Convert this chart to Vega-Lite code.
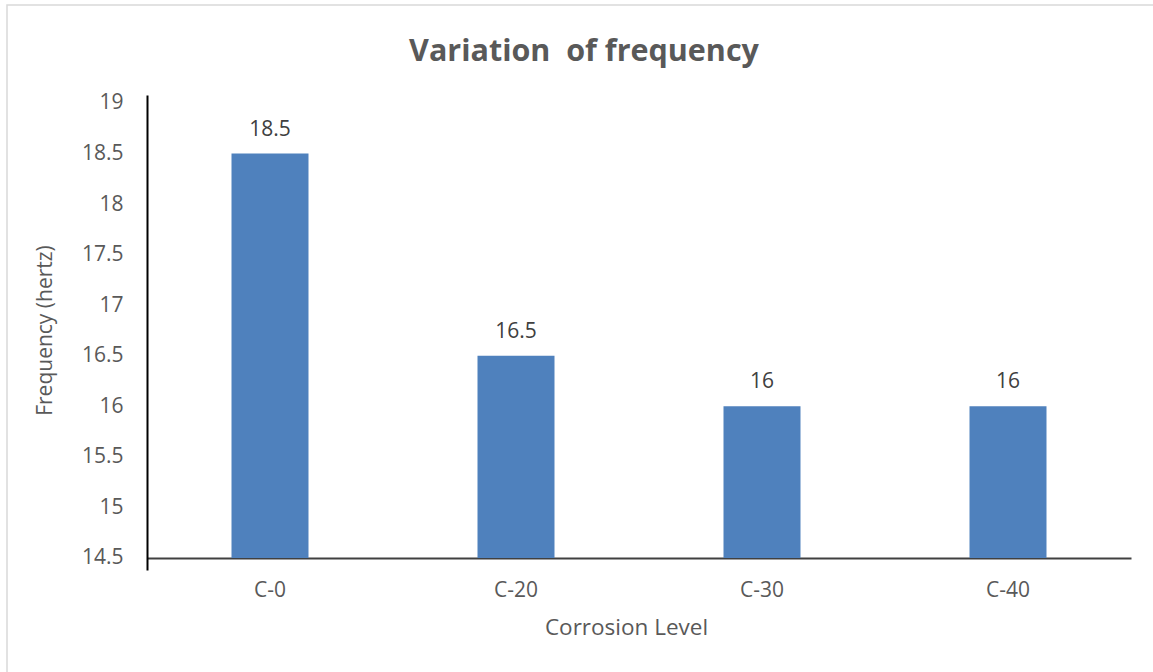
{
  "$schema": "https://vega.github.io/schema/vega-lite/v6.json",
  "autosize": "none",
  "width": 1150,
  "height": 670,
  "padding": {"left": 7, "top": 5, "right": 0, "bottom": 0},
  "background": "white",
  "config": {
    "view": {"stroke": "#D9D9D9", "strokeWidth": 1.5},
    "font": "Open Sans"
  },
  "title": {
    "text": "Variation \u00a0of frequency",
    "font": "Open Sans",
    "fontSize": 30.5,
    "fontWeight": "bold",
    "color": "#595959",
    "anchor": "middle",
    "frame": "group",
    "baseline": "middle",
    "offset": -40,
    "dx": 2,
    "dy": 37
  },
  "data": {
    "values": [
      {"level": "C-0", "frequency": 18.5},
      {"level": "C-20", "frequency": 16.5},
      {"level": "C-30", "frequency": 16},
      {"level": "C-40", "frequency": 16}
    ]
  },
  "encoding": {
    "x": {
      "field": "level",
      "type": "nominal",
      "sort": null,
      "scale": {"type": "band", "range": [140, 1124], "paddingInner": 0.687, "paddingOuter": 0.3435},
      "axis": {
        "title": "Corrosion Level",
        "orient": "bottom",
        "offset": -117,
        "labelAngle": 0,
        "labelFont": "Open Sans",
        "labelFontSize": 21,
        "labelColor": "#595959",
        "labelPadding": 21,
        "ticks": false,
        "domain": true,
        "domainColor": "#404040",
        "domainWidth": 2,
        "titleFont": "Open Sans",
        "titleFontSize": 22.5,
        "titleFontWeight": "normal",
        "titleColor": "#595959",
        "titleX": 619,
        "titleY": 69,
        "titleBaseline": "middle",
        "titleAnchor": "middle",
        "titleAlign": "center"
      }
    },
    "y": {
      "field": "frequency",
      "type": "quantitative",
      "scale": {"domain": [14.381, 19.079], "range": [565, 90], "nice": false, "zero": false},
      "axis": {
        "title": "Frequency (hertz)",
        "orient": "left",
        "offset": -140,
        "values": [14.5, 15, 15.5, 16, 16.5, 17, 17.5, 18, 18.5, 19],
        "format": "",
        "labelFont": "Open Sans",
        "labelFontSize": 21,
        "labelColor": "#595959",
        "labelPadding": 24,
        "ticks": false,
        "grid": false,
        "domain": true,
        "domainColor": "#000000",
        "domainWidth": 2,
        "titleFont": "Open Sans",
        "titleFontSize": 21,
        "titleFontWeight": "normal",
        "titleColor": "#595959",
        "titleAngle": -90,
        "titleX": -102,
        "titleY": 325,
        "titleBaseline": "middle",
        "titleAlign": "center"
      }
    }
  },
  "layer": [
    {
      "mark": {"type": "bar", "color": "#4F81BD"},
      "encoding": {"y2": {"datum": 14.5}}
    },
    {
      "mark": {"type": "text", "font": "Open Sans", "fontSize": 21, "color": "#404040", "baseline": "middle", "dy": -24},
      "encoding": {"text": {"field": "frequency", "type": "quantitative", "format": ""}}
    }
  ]
}
